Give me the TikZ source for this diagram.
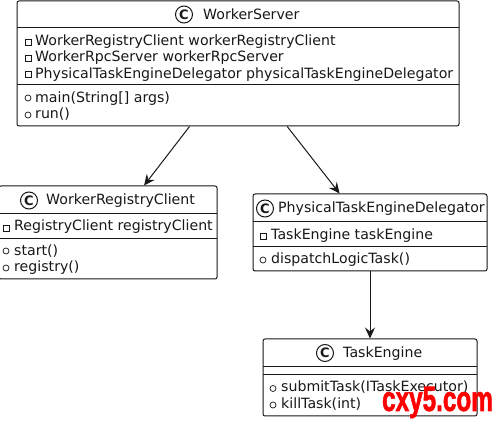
\documentclass[tikz,border=0pt]{standalone}
\usepackage{fontspec}
\setmainfont{DejaVu Sans}
\newfontfamily\wmfont[BoldFeatures={FakeBold=2}]{Liberation Sans}
\usetikzlibrary{arrows.meta}
\definecolor{ink}{HTML}{181818}
\tikzset{
  x=1pt,y=-1pt,
  umlbox/.style={draw=ink,line width=1pt,rounded corners=2pt,fill=white,inner sep=0pt},
  sep/.style={draw=ink,line width=1pt},
  lbl/.style={anchor=west,inner sep=0pt,text=ink,font=\fontsize{14.15}{16}\selectfont,text height=10pt,text depth=3pt},
  ttl/.style={lbl},
  priv/.style={draw=ink,line width=.7pt,minimum size=6pt,inner sep=0pt},
  publ/.style={draw=ink,line width=.7pt,circle,minimum size=6pt,inner sep=0pt},
  cmark/.style={draw=ink,line width=1pt,circle,minimum size=17pt,inner sep=0pt,text=ink,font=\fontsize{13}{13}\selectfont\bfseries},
  assoc/.style={draw=ink,line width=1pt,-{Stealth[length=11pt,width=10pt,inset=4pt]}},
  wm/.style={inner sep=0pt,text=red,font=\wmfont\fontsize{27}{27}\selectfont\bfseries,xscale=.9,yscale=1.3}
}
\begin{document}
\begin{tikzpicture}
\useasboundingbox (0,0) rectangle (499,422);
% boxes
\node[umlbox,minimum width=442pt,minimum height=125pt] (ws) at (238,63.5) {};
\node[umlbox,minimum width=218pt,minimum height=93pt] (wrc) at (108,232.5) {};
\node[umlbox,minimum width=234pt,minimum height=77pt] (pted) at (370,232.5) {};
\node[umlbox,minimum width=214pt,minimum height=77pt] (te) at (370,377.5) {};
% connectors
\draw[assoc] (ws) -- (wrc);
\draw[assoc] (ws) -- (pted);
\draw[assoc] (pted) -- (te);
% WorkerServer
\node[cmark] (c1) at (184,14.5) {C};
\node[ttl] (t1) at (203,16) {WorkerServer};
\draw[sep] (17,28) -- (459,28);
\draw[sep] (17,85) -- (459,85);
\node[priv] (m11) at (28,42) {};
\node[priv] (m12) at (28,58) {};
\node[priv] (m13) at (28,74) {};
\node[lbl] (a11) at (35,42.5) {WorkerRegistryClient workerRegistryClient};
\node[lbl] (a12) at (35,58.5) {WorkerRpcServer workerRpcServer};
\node[lbl] (a13) at (35,75) {PhysicalTaskEngineDelegator physicalTaskEngineDelegator};
\node[publ] (m14) at (28,98) {};
\node[publ] (m15) at (28,115) {};
\node[lbl] (a14) at (35,99.5) {main(String[] args)};
\node[lbl] (a15) at (35,115.5) {run()};
% WorkerRegistryClient
\node[cmark] (c2) at (29,200.5) {C};
\node[ttl] (t2) at (46,201.5) {WorkerRegistryClient};
\draw[sep] (-1,214) -- (217,214);
\draw[sep] (-1,239) -- (217,239);
\node[priv] (m21) at (6,228) {};
\node[lbl] (a21) at (14,227.5) {RegistryClient registryClient};
\node[publ] (m22) at (6,251) {};
\node[publ] (m23) at (6,268) {};
\node[lbl] (a22) at (14,252.5) {start()};
\node[lbl] (a23) at (14,268.5) {registry()};
% PhysicalTaskEngineDelegator
\node[cmark] (c3) at (265,208.5) {C};
\node[ttl] (t3) at (278,209.5) {PhysicalTaskEngineDelegator};
\draw[sep] (253,222) -- (487,222);
\draw[sep] (253,247) -- (487,247);
\node[priv] (m31) at (263,236) {};
\node[lbl] (a31) at (271,236.5) {TaskEngine taskEngine};
\node[publ] (m32) at (263,260) {};
\node[lbl] (a32) at (271,260.5) {dispatchLogicTask()};
% TaskEngine
\node[cmark] (c4) at (325,353) {C};
\node[ttl] (t4) at (343,354) {TaskEngine};
\draw[sep] (263,367) -- (477,367);
\draw[sep] (263,375) -- (477,375);
\node[publ] (m41) at (273,388.5) {};
\node[publ] (m42) at (273,405) {};
\node[lbl] (a41) at (281,388) {submitTask(ITaskExecutor)};
\node[lbl] (a42) at (281,405) {killTask(int)};
% watermark
\node[wm,anchor=center] (wmark) at (437.5,402.5) {cxy5.com};
\end{tikzpicture}
\end{document}
